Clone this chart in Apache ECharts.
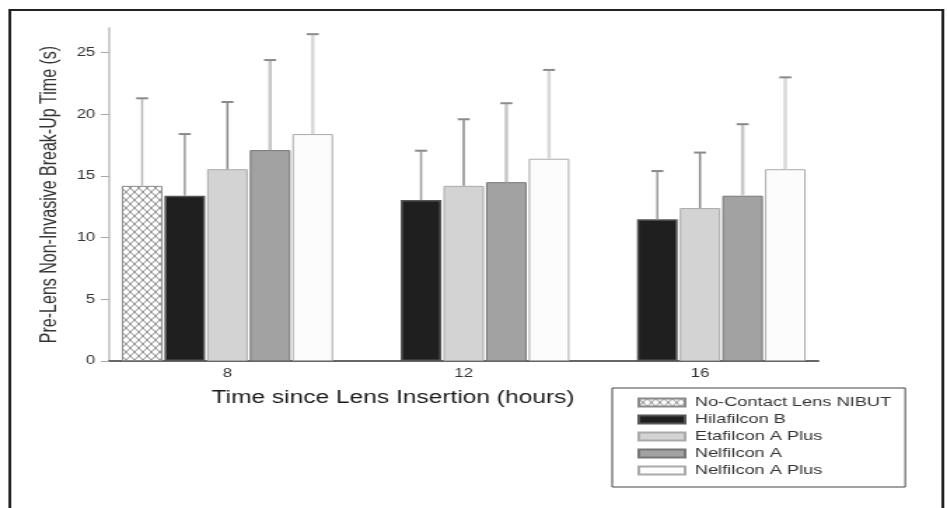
<!DOCTYPE html>
<html>
<head>
<meta charset="utf-8">
<script src="https://cdn.jsdelivr.net/npm/echarts@6/dist/echarts.min.js"></script>
<style>
    html, body { margin: 0; padding: 0; background: #fff; overflow: hidden; }
    /* the source figure is a stretched scan, so the chart is drawn narrow and widened */
    #chart_container { width: 676px; height: 508px; transform: scaleX(1.4009); transform-origin: 0 0; }
</style>
</head>
<body>
<div id="chart_container"></div>
<script>
"use strict";

// data
const categories = ['8', '12', '16'];
const seriesNames = ['No-Contact Lens NIBUT', 'Hilafilcon B', 'Etafilcon A Plus', 'Nelfilcon A', 'Nelfilcon A Plus'];

const nibutMean   = [14.2, null, null];
const hilaMean    = [13.4, 13.05, 11.5];
const etaMean     = [15.55, 14.2, 12.4];
const nelfMean    = [17.1, 14.5, 13.4];
const nelfPMean   = [18.4, 16.4, 15.55];

const nibutSD     = [7.1, null, null];
const hilaSD      = [5.0, 4.0, 3.9];
const etaSD       = [5.45, 5.4, 4.5];
const nelfSD      = [7.3, 6.4, 5.8];
const nelfPSD     = [8.1, 7.2, 7.45];

const yTicks = [0, 5, 10, 15, 20, 25];

const means = [nibutMean, hilaMean, etaMean, nelfMean, nelfPMean];
const sds = [nibutSD, hilaSD, etaSD, nelfSD, nelfPSD];

// styles
const fontFam = '"Liberation Sans", Arial, sans-serif';
const barW = 29;
const barGapRatio = 0.05;
const fills = [null, '#1f1f1f', '#d3d3d3', '#a2a2a2', '#fcfcfc'];
const borders = ['#8a8a8a', '#555', '#aaa', '#777', '#aaa'];
const stemColors = ['#b8b8b8', '#999', '#888', '#c8c8c8', '#d8d8d8'];
const stemWidths = [1.5, 1.5, 1.5, 2.5, 2.5];

// crosshatch for the no-lens bar
function hatch() {
    let cv = document.createElement('canvas');
    cv.width = 6;
    cv.height = 8;
    let ctx = cv.getContext('2d');
    ctx.fillStyle = '#fff';
    ctx.fillRect(0, 0, 6, 8);
    ctx.strokeStyle = '#8c8c8c';
    ctx.lineWidth = 1;
    ctx.beginPath();
    ctx.moveTo(0, 0); ctx.lineTo(6, 8);
    ctx.moveTo(6, 0); ctx.lineTo(0, 8);
    ctx.stroke();
    return cv;
}

let errRender = (idx) => (params, api) => {
    let cat = api.value(0);
    let base = api.coord([cat, api.value(1)]);
    let top = api.coord([cat, api.value(2)]);
    let x = base[0] + (idx - 2) * barW * (1 + barGapRatio);
    return {
        type: 'group',
        children: [
            { type: 'line', shape: { x1: x, y1: base[1], x2: x, y2: top[1] },
              style: { stroke: stemColors[idx], lineWidth: stemWidths[idx] } },
            { type: 'line', shape: { x1: x - 4.3, y1: top[1], x2: x + 4.3, y2: top[1] },
              style: { stroke: '#8a8a8a', lineWidth: 2 } }
        ]
    };
};

let series = [];
means.forEach((m, i) => {
    series.push({
        name: seriesNames[i],
        type: 'bar',
        barWidth: barW,
        barGap: (barGapRatio * 100) + '%',
        data: m,
        itemStyle: {
            color: i === 0 ? { image: hatch(), repeat: 'repeat' } : fills[i],
            borderColor: borders[i],
            borderWidth: i === 1 ? 1.5 : 1
        }
    });
});
means.forEach((m, i) => {
    let errData = [];
    m.forEach((v, j) => {
        if (v !== null) errData.push([j, v, v + sds[i][j]]);
    });
    series.push({
        type: 'custom',
        renderItem: errRender(i),
        data: errData,
        z: 3,
        silent: true
    });
});

let myChart = echarts.init(document.getElementById('chart_container'));

myChart.setOption({
    animation: false,
    textStyle: { fontFamily: fontFam },
    grid: { left: 78, right: 92, top: 28, bottom: 147 },
    title: {
        text: 'Time since Lens Insertion (hours)',
        left: 151,
        top: 389,
        padding: 0,
        textStyle: { fontFamily: fontFam, fontSize: 17.5, fontWeight: 'normal', color: '#1a1a1a' }
    },
    legend: {
        data: seriesNames,
        orient: 'vertical',
        left: 437,
        top: 388,
        padding: [8, 10, 10, 18],
        itemWidth: 33,
        itemHeight: 8,
        itemGap: 4,
        icon: 'rect',
        borderColor: '#444',
        borderWidth: 1,
        textStyle: { fontFamily: fontFam, fontSize: 13, lineHeight: 13, color: '#333', padding: [0, 0, 0, 2] }
    },
    xAxis: {
        type: 'category',
        data: categories,
        axisLine: { lineStyle: { color: '#666', width: 2 } },
        axisTick: { alignWithLabel: true, length: 5, lineStyle: { color: '#888' } },
        axisLabel: { color: '#333', fontSize: 12, margin: 7 }
    },
    yAxis: {
        type: 'value',
        min: 0,
        max: 27,
        interval: 5,
        name: 'Pre-Lens Non-Invasive Break-Up Time (s)',
        nameLocation: 'middle',
        nameGap: 29,
        nameTextStyle: { fontFamily: fontFam, fontSize: 16, color: '#333' },
        axisLine: { show: true, lineStyle: { color: '#cfcfcf', width: 2 } },
        axisTick: { show: true, length: 6, customValues: yTicks, lineStyle: { color: '#aaa' } },
        axisLabel: { color: '#333', fontSize: 12, margin: 10, customValues: yTicks },
        splitLine: { show: false }
    },
    graphic: [{
        type: 'rect',
        shape: { x: 7, y: 10, width: 666, height: 530 },
        style: { fill: 'none', stroke: '#222', lineWidth: 2 },
        silent: true
    }],
    series: series
});

console.log('chart done');
</script>
</body>
</html>
